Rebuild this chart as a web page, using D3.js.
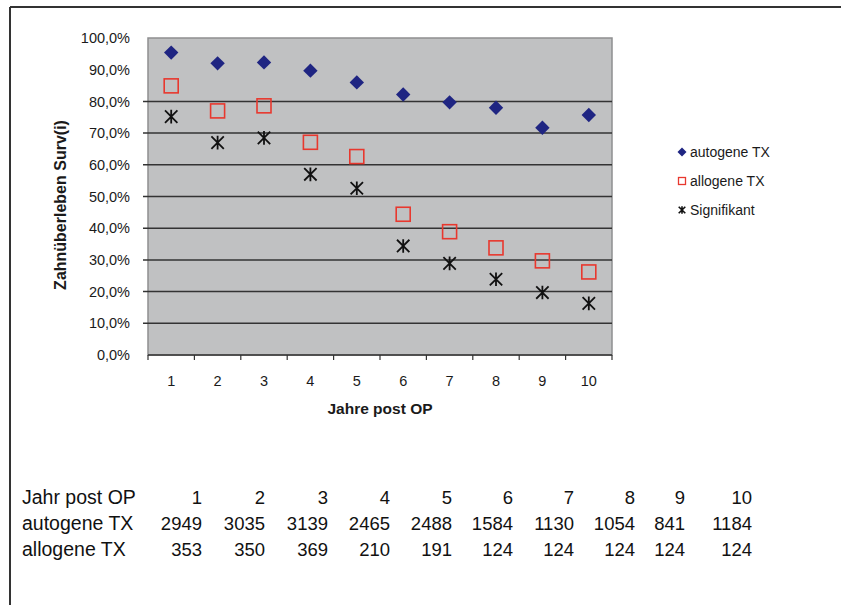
<!DOCTYPE html>
<html>
<head>
<meta charset="utf-8">
<script src="https://cdn.jsdelivr.net/npm/d3@7"></script>
<style>
  html, body { margin: 0; padding: 0; background: #fff; }
  svg { display: block; font-family: Arial, "Liberation Sans", Helvetica, sans-serif; }
</style>
</head>
<body>
<svg id="chart" width="841" height="605"></svg>
<script>
// Jahre nach OP und Überlebensraten (Anteil 0..1)
const years = [1, 2, 3, 4, 5, 6, 7, 8, 9, 10];
const autogene = [0.954, 0.920, 0.923, 0.897, 0.860, 0.822, 0.797, 0.780, 0.717, 0.757];
const allogene = [0.849, 0.770, 0.786, 0.671, 0.626, 0.444, 0.389, 0.338, 0.297, 0.262];
const signifikant = [0.752, 0.670, 0.685, 0.570, 0.526, 0.344, 0.289, 0.239, 0.197, 0.163];
const yTicks = [0, 0.1, 0.2, 0.3, 0.4, 0.5, 0.6, 0.7, 0.8, 0.9, 1.0];
const gridTicks = [0.1, 0.2, 0.3, 0.4, 0.5, 0.6, 0.7, 0.8];

// Fallzahlen je Jahr
const tableHeader = "Jahr post OP";
const nAutogene = [2949, 3035, 3139, 2465, 2488, 1584, 1130, 1054, 841, 1184];
const nAllogene = [353, 350, 369, 210, 191, 124, 124, 124, 124, 124];
const tableColRight = [202, 265, 328, 390, 452, 513, 574, 635, 685, 752];

const seriesNames = ["autogene TX", "allogene TX", "Signifikant"];

const svg = d3.select("#chart");

// Rahmen oben und links
svg.append("line").attr("x1", 10).attr("y1", 7).attr("x2", 841).attr("y2", 7)
  .attr("stroke", "#333").attr("stroke-width", 2);
svg.append("line").attr("x1", 10).attr("y1", 7).attr("x2", 10).attr("y2", 605)
  .attr("stroke", "#333").attr("stroke-width", 2);

const plot = { left: 148, right: 612, top: 38, bottom: 355 };

const x = d3.scaleBand().domain(years).range([plot.left, plot.right]).padding(0);
const y = d3.scaleLinear().domain([0, 1]).range([plot.bottom, plot.top]);

// Plotfläche
svg.append("rect")
  .attr("x", plot.left).attr("y", plot.top)
  .attr("width", plot.right - plot.left).attr("height", plot.bottom - plot.top)
  .attr("fill", "#c0c1c2").attr("stroke", "#8e8f90").attr("stroke-width", 1.5);

// Gitterlinien mit kurzen Ticks links
svg.append("g").selectAll("line").data(gridTicks).join("line")
  .attr("x1", plot.left - 5).attr("x2", plot.right)
  .attr("y1", d => y(d)).attr("y2", d => y(d))
  .attr("stroke", "#333").attr("stroke-width", 1.5);

// y-Achse (Beschriftungen)
const fmt = d => d3.format(".1f")(d * 100).replace(".", ",") + "%";
const yAxis = d3.axisLeft(y).tickValues(yTicks).tickFormat(fmt).tickSize(0).tickPadding(18);
const gy = svg.append("g").attr("transform", `translate(${plot.left},0)`).call(yAxis);
gy.select(".domain").remove();
gy.selectAll("text").attr("font-size", 14.5).attr("fill", "#1a1a1a")
  .attr("font-family", "Arial, 'Liberation Sans', sans-serif");

// x-Achse
const gx = svg.append("g").attr("transform", `translate(0,${plot.bottom})`)
  .call(d3.axisBottom(x).tickSize(0).tickPadding(21));
gx.select(".domain").attr("stroke", "#333").attr("stroke-width", 1.5)
  .attr("d", `M${plot.left},0H${plot.right}`);
gx.selectAll("text").attr("font-size", 14.5).attr("fill", "#1a1a1a")
  .attr("font-family", "Arial, 'Liberation Sans', sans-serif");
// Kategorie-Trennticks
const boundaries = years.map(d => x(d)).concat([x(years[years.length - 1]) + x.bandwidth()]);
svg.append("g").selectAll("line").data(boundaries).join("line")
  .attr("x1", d => d).attr("x2", d => d)
  .attr("y1", plot.bottom).attr("y2", plot.bottom + 5)
  .attr("stroke", "#333").attr("stroke-width", 1.2);

// Achsentitel
svg.append("text")
  .attr("transform", "translate(66,205) rotate(-90)")
  .attr("text-anchor", "middle")
  .attr("font-size", 16).attr("font-weight", "bold").attr("fill", "#1a1a1a")
  .text("Zahnüberleben Surv(i)");
svg.append("text")
  .attr("x", 380).attr("y", 414)
  .attr("text-anchor", "middle")
  .attr("font-size", 15.5).attr("font-weight", "bold").attr("fill", "#1a1a1a")
  .text("Jahre post OP");

// Symbole
const cx = (d, i) => x(years[i]) + x.bandwidth() / 2;
const diamondPath = r => `M0,${-r}L${r},0L0,${r}L${-r},0Z`;
const starPath = r => `M${-r},${-r}L${r},${r}M${-r},${r}L${r},${-r}M0,${-r * 1.1}L0,${r * 1.1}`;

svg.append("g").selectAll("path").data(autogene).join("path")
  .attr("transform", (d, i) => `translate(${cx(d, i)},${y(d)})`)
  .attr("d", diamondPath(7.2))
  .attr("fill", "#1f2582");

svg.append("g").selectAll("rect").data(allogene).join("rect")
  .attr("x", (d, i) => cx(d, i) - 7).attr("y", d => y(d) - 7)
  .attr("width", 14).attr("height", 14)
  .attr("fill", "none").attr("stroke", "#e8382e").attr("stroke-width", 1.6);

svg.append("g").selectAll("path").data(signifikant).join("path")
  .attr("transform", (d, i) => `translate(${cx(d, i)},${y(d)})`)
  .attr("d", starPath(6.2))
  .attr("fill", "none").attr("stroke", "#111").attr("stroke-width", 1.8);

// Legende
const legendY = [152, 181, 210];
const lg = svg.append("g");
lg.append("path").attr("transform", `translate(682,${legendY[0]})`)
  .attr("d", diamondPath(4.5)).attr("fill", "#1f2582");
lg.append("rect").attr("x", 678.5).attr("y", legendY[1] - 3.5).attr("width", 7).attr("height", 7)
  .attr("fill", "none").attr("stroke", "#e8382e").attr("stroke-width", 1.3);
lg.append("path").attr("transform", `translate(682,${legendY[2]})`)
  .attr("d", starPath(3.3)).attr("fill", "none").attr("stroke", "#111").attr("stroke-width", 1.6);
lg.selectAll("text").data(seriesNames).join("text")
  .attr("x", 690).attr("y", (d, i) => legendY[i] + 4.7)
  .attr("font-size", 14).attr("fill", "#1a1a1a")
  .text(d => d);

// Tabelle der Fallzahlen
const rows = [
  { label: tableHeader, values: years, y: 504 },
  { label: "autogene TX", values: nAutogene, y: 530 },
  { label: "allogene TX", values: nAllogene, y: 556 }
];
const tg = svg.append("g").attr("fill", "#111");
rows.forEach(r => {
  tg.append("text").attr("x", 22).attr("y", r.y)
    .attr("font-size", 19.5).text(r.label);
  tg.selectAll(null).data(r.values).join("text")
    .attr("x", (d, i) => tableColRight[i]).attr("y", r.y)
    .attr("text-anchor", "end").attr("font-size", 18.5)
    .text(d => d);
});
</script>
</body>
</html>
